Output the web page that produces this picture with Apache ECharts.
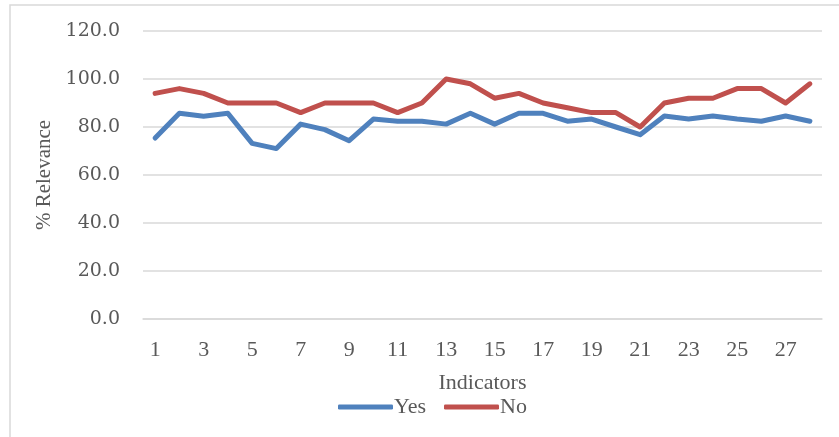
<!DOCTYPE html>
<html>
<head>
<meta charset="utf-8">
<script src="https://cdn.jsdelivr.net/npm/echarts@6/dist/echarts.min.js"></script>
<style>
  html, body { margin: 0; padding: 0; background: #fff; }
  #chart { width: 839px; height: 437px; }
</style>
</head>
<body>
<div id="chart"></div>
<script>
// Indicator numbers 1..28
const indicators = [];
for (let i = 1; i <= 28; i++) indicators.push(String(i));

// % relevance per indicator
const yesValues = [75.4, 85.7, 84.5, 85.7, 73.2, 71.0, 81.2, 78.9, 74.3, 83.3,
                   82.4, 82.4, 81.2, 85.7, 81.2, 85.7, 85.7, 82.4, 83.3, 80.0,
                   76.8, 84.6, 83.3, 84.6, 83.3, 82.4, 84.6, 82.4];
const noValues  = [94, 96, 94, 90, 90, 90, 86, 90, 90, 90,
                   86, 90, 100, 98, 92, 94, 90, 88, 86, 86,
                   80, 90, 92, 92, 96, 96, 90, 98];

const textColor = '#595959';
const serif = '"Liberation Serif", "Times New Roman", serif';

const chart = echarts.init(document.getElementById('chart'));
chart.setOption({
  animation: false,
  backgroundColor: '#ffffff',
  graphic: [{
    type: 'rect',
    shape: { x: 10, y: 5, width: 840, height: 440 },
    style: { fill: 'none', stroke: '#d9d9d9', lineWidth: 1.5 },
    silent: true
  }],
  grid: { left: 143, right: 17, top: 31, bottom: 118 },
  legend: {
    left: 333,
    top: 391,
    itemWidth: 55,
    itemHeight: 5,
    itemGap: 18,
    icon: 'roundRect',
    textStyle: { fontFamily: serif, fontSize: 22, color: textColor, padding: [0, 0, 0, -4] },
    data: ['Yes', 'No']
  },
  xAxis: {
    type: 'category',
    data: indicators,
    boundaryGap: true,
    name: 'Indicators',
    nameLocation: 'middle',
    nameGap: 53,
    nameTextStyle: { fontFamily: serif, fontSize: 22, color: textColor },
    axisLine: { show: true, lineStyle: { color: '#d9d9d9', width: 1.5 } },
    axisTick: { show: false },
    axisLabel: { interval: 1, margin: 20, fontFamily: serif, fontSize: 22, color: textColor }
  },
  yAxis: {
    type: 'value',
    min: 0,
    max: 120,
    interval: 20,
    name: '% Relevance',
    nameLocation: 'middle',
    nameGap: 88,
    nameRotate: 90,
    nameTextStyle: { fontFamily: serif, fontSize: 21, color: textColor },
    axisLine: { show: false },
    axisTick: { show: false },
    splitLine: { lineStyle: { color: '#d9d9d9', width: 1.5 } },
    axisLabel: {
      margin: 23,
      fontFamily: '"DejaVu Serif", serif',
      fontSize: 19,
      color: textColor,
      formatter: v => v.toFixed(1)
    }
  },
  series: [
    {
      name: 'Yes',
      type: 'line',
      data: yesValues,
      showSymbol: false,
      color: '#4F81BD',
      lineStyle: { width: 5, color: '#4F81BD', cap: 'round', join: 'round' }
    },
    {
      name: 'No',
      type: 'line',
      data: noValues,
      showSymbol: false,
      color: '#C0504D',
      lineStyle: { width: 5, color: '#C0504D', cap: 'round', join: 'round' }
    }
  ]
});
</script>
</body>
</html>
